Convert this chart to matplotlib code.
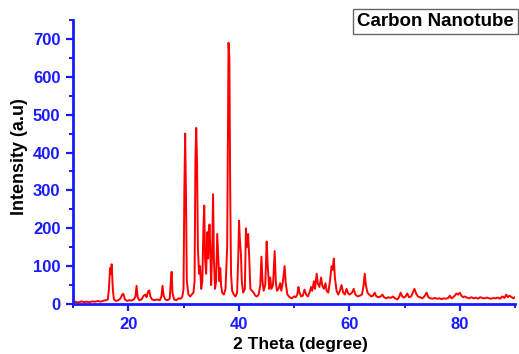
import matplotlib
matplotlib.use("Agg")
import matplotlib.pyplot as plt
from matplotlib.ticker import MultipleLocator

two_theta = [10.0, 10.5, 11.0, 11.5, 12.0, 12.5, 13.0, 13.5, 14.0, 14.5, 15.0, 15.5, 16.0, 16.3, 16.5, 16.7, 16.85, 17.0, 17.2, 17.4,
             17.8, 18.2, 18.6, 18.9, 19.1, 19.4, 19.8, 20.2, 20.6, 21.0, 21.3, 21.5, 21.7, 22.0, 22.4, 22.8, 23.1, 23.3, 23.6, 23.8,
             24.0, 24.3, 24.8, 25.2, 25.7, 26.0, 26.2, 26.4, 26.7, 27.1, 27.5, 27.7, 27.85, 28.0, 28.3, 28.7, 29.1, 29.5, 29.8, 30.0,
             30.15, 30.3, 30.45, 30.6, 30.9, 31.2, 31.5, 31.8, 32.0, 32.15, 32.3, 32.45, 32.6, 32.8, 33.0, 33.2, 33.4, 33.6, 33.75, 33.9,
             34.1, 34.3, 34.45, 34.7, 34.85, 35.0, 35.2, 35.35, 35.5, 35.7, 35.9, 36.1, 36.3, 36.5, 36.65, 36.8, 37.0, 37.3, 37.6, 37.9,
             38.05, 38.15, 38.3, 38.45, 38.6, 38.8, 39.1, 39.4, 39.7, 39.9, 40.05, 40.2, 40.4, 40.55, 40.8, 41.1, 41.3, 41.45, 41.7, 41.9,
             42.1, 42.4, 42.7, 43.0, 43.3, 43.6, 43.9, 44.1, 44.3, 44.5, 44.8, 45.05, 45.25, 45.5, 45.7, 45.9, 46.2, 46.5, 46.7, 46.9,
             47.2, 47.5, 47.7, 48.0, 48.3, 48.5, 48.8, 49.2, 49.6, 50.0, 50.3, 50.6, 50.8, 51.0, 51.3, 51.6, 51.9, 52.2, 52.5, 52.8,
             53.1, 53.3, 53.6, 53.8, 54.1, 54.3, 54.6, 54.9, 55.1, 55.4, 55.7, 55.9, 56.2, 56.5, 56.8, 57.0, 57.2, 57.4, 57.7, 58.0,
             58.3, 58.6, 58.9, 59.2, 59.5, 59.8, 60.1, 60.5, 60.8, 61.1, 61.5, 61.9, 62.3, 62.6, 62.8, 63.0, 63.3, 63.6, 64.0, 64.3,
             64.6, 64.9, 65.3, 65.7, 66.0, 66.3, 66.7, 67.1, 67.5, 67.9, 68.3, 68.7, 69.0, 69.3, 69.6, 69.9, 70.2, 70.5, 70.8, 71.2,
             71.5, 71.8, 72.1, 72.4, 72.8, 73.2, 73.6, 74.0, 74.3, 74.7, 75.1, 75.5, 75.9, 76.3, 76.7, 77.1, 77.5, 77.9, 78.2, 78.5,
             78.8, 79.1, 79.4, 79.7, 80.0, 80.3, 80.6, 80.9, 81.3, 81.7, 82.1, 82.5, 82.9, 83.3, 83.7, 84.1, 84.5, 84.9, 85.3, 85.7,
             86.1, 86.5, 86.9, 87.3, 87.7, 88.1, 88.4, 88.7, 89.0, 89.4, 89.7, 90.0]
intensity = [3, 6, 4, 7, 5, 6, 5, 7, 6, 8, 6, 9, 10, 12, 40, 95, 80, 105, 40, 12,
             8, 10, 15, 25, 27, 12, 8, 10, 9, 12, 20, 48, 18, 10, 12, 22, 25, 18, 33, 36,
             20, 12, 10, 12, 10, 20, 48, 22, 12, 10, 14, 60, 85, 30, 12, 10, 15, 14, 20, 40,
             300, 450, 280, 60, 25, 20, 25, 30, 60, 380, 465, 370, 150, 80, 100, 40, 60, 200, 260, 120,
             80, 190, 120, 210, 140, 50, 150, 290, 120, 40, 60, 185, 120, 60, 95, 50, 30, 25, 40, 150,
             500, 690, 650, 300, 80, 35, 25, 20, 30, 120, 220, 170, 130, 60, 30, 40, 200, 150, 185, 120,
             40, 35, 30, 22, 20, 25, 50, 125, 60, 35, 50, 165, 100, 40, 70, 40, 50, 140, 60, 35,
             40, 55, 35, 60, 100, 55, 25, 18, 15, 20, 18, 25, 45, 30, 20, 22, 38, 25, 20, 30,
             45, 35, 60, 40, 80, 55, 45, 70, 50, 40, 55, 35, 30, 60, 100, 90, 120, 70, 35, 25,
             35, 50, 30, 25, 40, 28, 25, 30, 40, 25, 20, 22, 25, 50, 80, 50, 30, 25, 20, 22,
             30, 20, 18, 20, 25, 18, 15, 18, 16, 20, 15, 12, 18, 30, 20, 17, 20, 28, 18, 20,
             30, 40, 28, 20, 18, 15, 20, 30, 18, 15, 14, 16, 14, 15, 13, 15, 14, 16, 22, 15,
             18, 22, 28, 25, 30, 22, 18, 20, 17, 15, 18, 15, 17, 14, 18, 16, 15, 17, 15, 14,
             16, 15, 17, 14, 20, 16, 25, 18, 22, 18, 15, 18]

x_ticks = [20, 40, 60, 80]
y_ticks = [0, 100, 200, 300, 400, 500, 600, 700]
legend_label = "Carbon Nanotube"

plt.rcParams['font.family'] = ['Liberation Sans', 'DejaVu Sans']
blue = '#1a1aff'

fig = plt.figure(figsize=(5.19, 3.54), dpi=100)
ax = fig.add_axes([0.1407, 0.1412, 0.8516, 0.8023])
ax.plot(two_theta, intensity, color='#ff0000', lw=1.4)
ax.set_xlim(10, 90)
ax.set_ylim(0, 750)
ax.set_xticks(x_ticks)
ax.set_yticks(y_ticks)
ax.xaxis.set_minor_locator(MultipleLocator(10))
ax.yaxis.set_minor_locator(MultipleLocator(50))

for s in ['top', 'right']:
    ax.spines[s].set_visible(False)
for s in ['left', 'bottom']:
    ax.spines[s].set_color(blue)
    ax.spines[s].set_linewidth(2)

ax.tick_params(which='major', direction='out', length=5, width=1.6, color=blue,
               labelcolor=blue, labelsize=12, pad=4)
ax.tick_params(which='minor', direction='out', length=3, width=1.4, color=blue)
for lab in ax.get_xticklabels() + ax.get_yticklabels():
    lab.set_fontweight('bold')

ax.set_xlabel("2 Theta (degree)", fontsize=12.5, fontweight='bold', color='black')
ax.xaxis.set_label_coords(0.514, -0.115)
ax.set_ylabel("Intensity (a.u)", fontsize=13, fontweight='bold', color='black')
ax.yaxis.set_label_coords(-0.12, 0.52)
ax.yaxis.label.set_va('center')

fig.text(0.688, 0.939, legend_label, fontsize=13.5, fontweight='bold', color='black',
         ha='left', va='center',
         bbox=dict(boxstyle='square,pad=0.2', facecolor='white', edgecolor='#666666', lw=1))

fig.savefig("out.png", dpi=100)
